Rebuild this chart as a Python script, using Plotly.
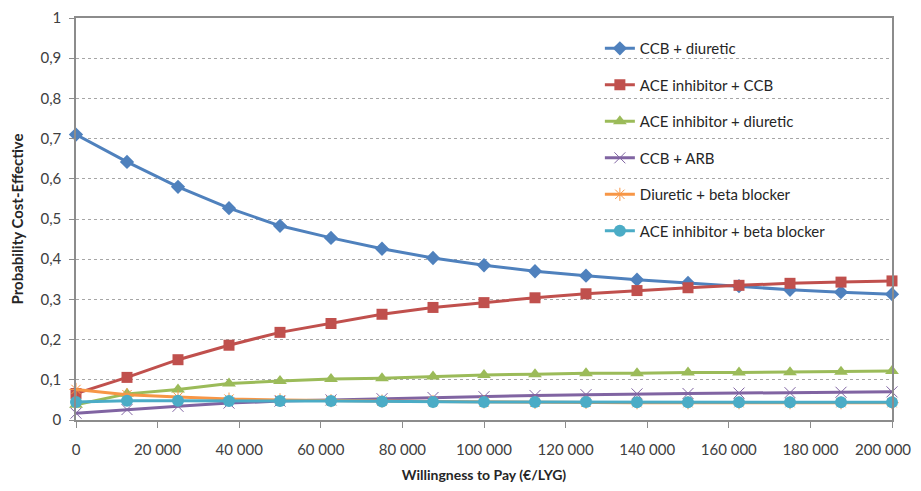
import plotly.graph_objects as go

wtp = [0, 12500, 25000, 37500, 50000, 62500, 75000, 87500, 100000, 112500,
       125000, 137500, 150000, 162500, 175000, 187500, 200000]

ccb_diuretic = [0.710, 0.642, 0.580, 0.527, 0.483, 0.453, 0.426, 0.403, 0.385,
                0.370, 0.359, 0.349, 0.341, 0.333, 0.324, 0.318, 0.313]
ace_ccb = [0.066, 0.106, 0.150, 0.186, 0.218, 0.240, 0.263, 0.280, 0.292,
           0.304, 0.314, 0.322, 0.329, 0.335, 0.340, 0.343, 0.346]
ace_diuretic = [0.038, 0.065, 0.076, 0.091, 0.097, 0.102, 0.104, 0.108, 0.112,
                0.114, 0.116, 0.116, 0.118, 0.118, 0.119, 0.120, 0.122]
ccb_arb = [0.017, 0.026, 0.034, 0.042, 0.047, 0.050, 0.053, 0.056, 0.058,
           0.061, 0.063, 0.065, 0.066, 0.067, 0.068, 0.069, 0.070]
diuretic_bb = [0.076, 0.063, 0.057, 0.052, 0.050, 0.048, 0.047, 0.046, 0.045,
               0.044, 0.044, 0.043, 0.043, 0.043, 0.043, 0.043, 0.043]
ace_bb = [0.045, 0.048, 0.048, 0.047, 0.047, 0.047, 0.046, 0.045, 0.045,
          0.045, 0.045, 0.044, 0.044, 0.044, 0.044, 0.044, 0.044]

x_tick_vals = [0, 20000, 40000, 60000, 80000, 100000, 120000, 140000,
               160000, 180000, 200000]
x_tick_text = ["0", "20 000", "40 000", "60 000", "80 000", "100 000",
               "120 000", "140 000", "160 000", "180 000", "200 000"]

series = [
    ("CCB + diuretic", ccb_diuretic, "#4F81BD", dict(symbol="diamond", size=11, color="#4F81BD")),
    ("ACE inhibitor + CCB", ace_ccb, "#C0504D", dict(symbol="square", size=11, color="#C0504D")),
    ("ACE inhibitor + diuretic", ace_diuretic, "#9BBB59", dict(symbol="triangle-up", size=12, color="#9BBB59")),
    ("CCB + ARB", ccb_arb, "#8064A2", dict(symbol="x-thin-open", size=11, line=dict(color="#A899C8", width=1))),
    ("Diuretic + beta blocker", diuretic_bb, "#F79646", dict(symbol="asterisk-open", size=11, line=dict(color="#F9B07A", width=1))),
    ("ACE inhibitor + beta blocker", ace_bb, "#4BACC6", dict(symbol="circle", size=12, color="#4BACC6")),
]

fig = go.Figure()
for i, (name, vals, col, mk) in enumerate(series):
    fig.add_trace(go.Scatter(
        x=wtp, y=vals, name=name, mode="lines+markers",
        line=dict(color=col, width=3), marker=mk,
        legendgroup=f"g{i}", cliponaxis=False,
    ))

font = "Lato, 'Open Sans', sans-serif"
tick_font = dict(family=font, size=15, color="#404040")

# the last x label sits at the window edge: draw it right-anchored so it stays visible
fig.add_annotation(x=x_tick_vals[-1], xref="x", y=0, yref="paper",
                   text=x_tick_text[-1], showarrow=False,
                   xanchor="right", yanchor="middle", xshift=21, yshift=-29,
                   font=tick_font)

fig.update_layout(
    width=913, height=475,
    margin=dict(l=68, r=29, t=10, b=63),
    paper_bgcolor="white", plot_bgcolor="white",
    separators=", ",
    font=dict(family=font, size=15, color="#404040"),
    showlegend=True,
    legend=dict(x=0.642, y=0.965, xanchor="left", yanchor="top",
                bgcolor="rgba(0,0,0,0)", tracegroupgap=14,
                font=dict(size=15, color="#262626"), itemwidth=30),
    xaxis=dict(range=[0, 200000], tickvals=x_tick_vals,
               ticktext=x_tick_text[:-1] + [""],
               tickfont=tick_font,
               automargin=False, ticklabelstandoff=9,
               showgrid=False, zeroline=False,
               showline=True, linecolor="#8C8C8C", linewidth=1.5, mirror=True,
               ticks="outside", ticklen=6, tickcolor="#8C8C8C",
               title=dict(text="<b>Willingness to Pay (€/LYG)</b>",
                          font=dict(size=14, color="#262626"), standoff=23)),
    yaxis=dict(range=[0, 1], dtick=0.1, tickfont=tick_font,
               automargin=False, ticklabelstandoff=5,
               showgrid=True, gridcolor="#A6A6A6", griddash="dot", gridwidth=1,
               zeroline=False,
               showline=True, linecolor="#8C8C8C", linewidth=1.5, mirror=True,
               ticks="outside", ticklen=5, tickcolor="#8C8C8C",
               title=dict(text="<b>Probability Cost-Effective</b>",
                          font=dict(size=15, color="#262626"), standoff=13)),
)

fig.write_html("out.html")
